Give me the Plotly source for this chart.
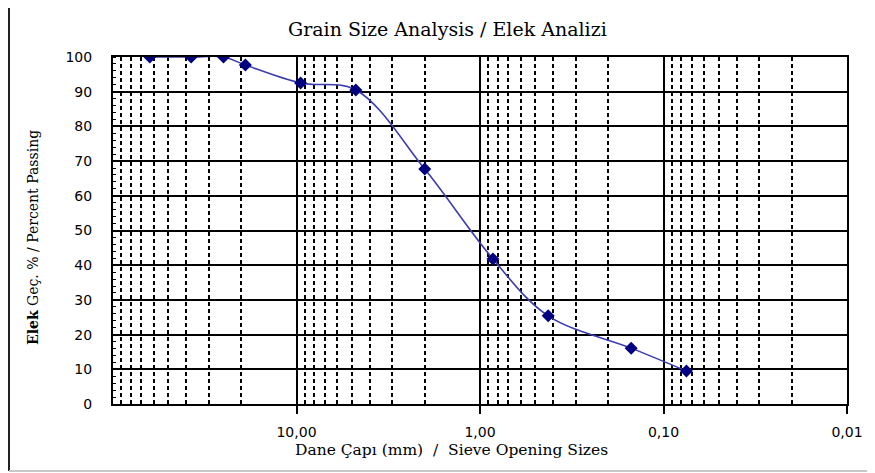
import plotly.graph_objects as go

# Data
sieve_mm = [63, 37.5, 25, 19, 9.5, 4.75, 2.0, 0.85, 0.425, 0.15, 0.075]
passing = [100, 100, 100, 97.7, 92.5, 90.5, 67.7, 41.8, 25.4, 16.1, 9.5]

x_tick_vals = [10, 1, 0.1, 0.01]
x_tick_text = ["10,00", "1,00", "0,10", "0,01"]
y_tick_vals = [0, 10, 20, 30, 40, 50, 60, 70, 80, 90, 100]

title_text = "Grain Size Analysis / Elek Analizi"
x_title = "Dane Çapı (mm)  /  Sieve Opening Sizes"
y_title = "<b>Elek</b> Geç. % / Percent Passing"

fig = go.Figure()
fig.add_trace(go.Scatter(
    x=sieve_mm, y=passing, mode="lines+markers",
    line=dict(color="#3c3cae", width=1.6, shape="spline", smoothing=1.0),
    marker=dict(symbol="diamond", size=10, color="#000080"),
    showlegend=False, hoverinfo="skip",
))

OFF = 8  # page body margin
# target plot area in page pixels
PL, PR, PT, PB = 113, 847, 57, 404
W, H = 875 - OFF, 473 - OFF
L = PL - OFF
R = (OFF + W) - PR
T = PT - OFF
B = (OFF + H) - PB
pw = PR - PL
ph = PB - PT


def px(xp):
    return (xp - PL) / pw


def py(yp):
    return (PB - yp) / ph


fig.update_layout(
    width=W, height=H,
    margin=dict(l=L, r=R, t=T, b=B, pad=0),
    paper_bgcolor="white", plot_bgcolor="white",
    showlegend=False,
    xaxis=dict(
        type="log", range=[2, -2], autorange=False,
        tickvals=x_tick_vals, ticktext=x_tick_text,
        showgrid=True, gridcolor="black", gridwidth=1.6,
        ticks="outside", ticklen=8, tickwidth=1.6, tickcolor="black",
        ticklabelstandoff=6,
        showline=True, linecolor="black", linewidth=2, mirror=True,
        zeroline=False,
        tickfont=dict(family="DejaVu Sans", size=14, color="black"),
        minor=dict(dtick="D1", showgrid=True, gridcolor="black", gridwidth=1.5,
                   griddash="4px,3px", ticks=""),
    ),
    yaxis=dict(
        range=[0, 100], autorange=False,
        tickvals=y_tick_vals,
        showgrid=True, gridcolor="black", gridwidth=1.6,
        ticks="", ticklabelstandoff=16,
        showline=True, linecolor="black", linewidth=2, mirror=True,
        zeroline=False,
        tickfont=dict(family="DejaVu Sans", size=14, color="black"),
        minor=dict(dtick=2, ticks="inside", ticklen=3, tickwidth=1,
                   tickcolor="black", showgrid=False),
    ),
    annotations=[
        dict(text=title_text, xref="paper", yref="paper",
             x=px(447), y=py(29), xanchor="center", yanchor="middle",
             showarrow=False, font=dict(family="DejaVu Serif", size=19, color="black")),
        dict(text=x_title, xref="paper", yref="paper",
             x=px(451), y=py(450), xanchor="center", yanchor="middle",
             showarrow=False, font=dict(family="DejaVu Serif", size=15.5, color="black")),
        dict(text=y_title, xref="paper", yref="paper", textangle=-90,
             x=px(33), y=py(238), xanchor="center", yanchor="middle",
             showarrow=False, font=dict(family="DejaVu Serif", size=14, color="black")),
    ],
    shapes=[
        # chart-area frame: dark left and top edges, light bottom edge
        dict(type="line", xref="paper", yref="paper",
             x0=px(9), x1=px(9), y0=py(471), y1=py(3),
             line=dict(color="#222222", width=2), layer="below"),
        dict(type="line", xref="paper", yref="paper",
             x0=px(9), x1=px(890), y0=py(3), y1=py(3),
             line=dict(color="#222222", width=2), layer="below"),
        dict(type="line", xref="paper", yref="paper",
             x0=px(9), x1=px(890), y0=py(471), y1=py(471),
             line=dict(color="#c8c8c8", width=2), layer="below"),
    ],
)

fig.write_html("out.html")
